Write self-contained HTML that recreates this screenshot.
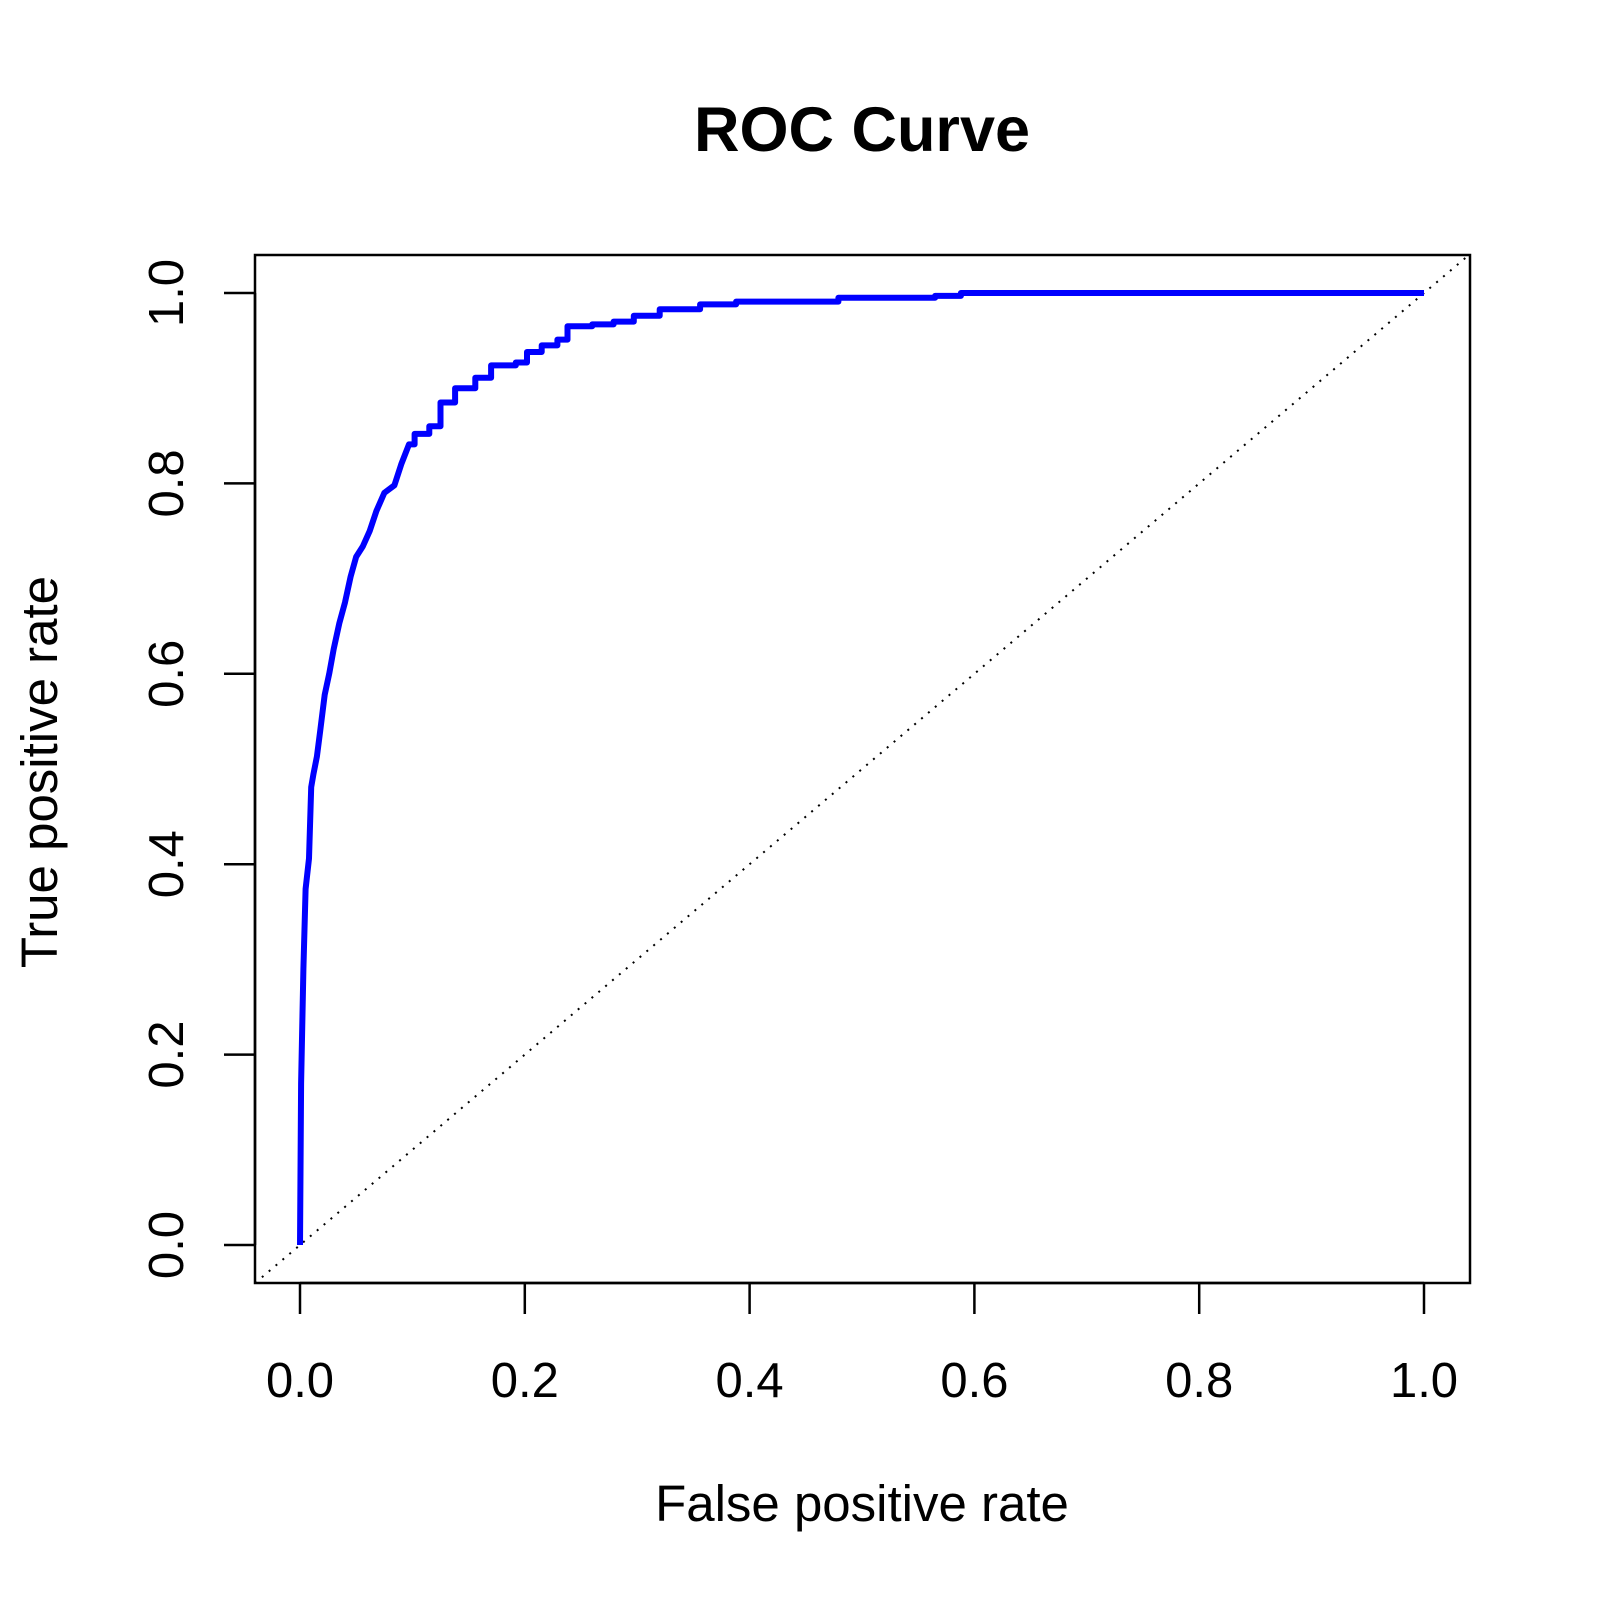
<!DOCTYPE html>
<html><head><meta charset="utf-8"><style>html,body{margin:0;padding:0;background:#fff}svg{display:block}</style></head>
<body>
<svg id="s" width="1603" height="1603" viewBox="0 0 1603 1603" xmlns="http://www.w3.org/2000/svg" font-family="Liberation Sans, Arial, sans-serif">
<defs><clipPath id="cl"><rect x="255" y="255" width="1215" height="1028"/></clipPath></defs>
<rect width="1603" height="1603" fill="#fff"/>
<text x="862" y="151" font-size="63" font-weight="bold" text-anchor="middle">ROC Curve</text>
<line clip-path="url(#cl)" x1="255.04" y1="1283.08" x2="1469" y2="254.9" stroke="#000" stroke-width="2" stroke-dasharray="2,7"/>
<polyline id="c" fill="none" stroke="#0000ff" stroke-width="6" stroke-linejoin="round" points=""/>
<rect x="255" y="255" width="1215" height="1028" fill="none" stroke="#000" stroke-width="2.5"/>
<g stroke="#000" stroke-width="2.5">
<line x1="300" y1="1283" x2="1424" y2="1283"/>
<line x1="300" y1="1283" x2="300" y2="1314"/><line x1="524.8" y1="1283" x2="524.8" y2="1314"/>
<line x1="749.6" y1="1283" x2="749.6" y2="1314"/><line x1="974.4" y1="1283" x2="974.4" y2="1314"/>
<line x1="1199.2" y1="1283" x2="1199.2" y2="1314"/><line x1="1424" y1="1283" x2="1424" y2="1314"/>
<line x1="255" y1="293" x2="255" y2="1245"/>
<line x1="224" y1="1245" x2="255" y2="1245"/><line x1="224" y1="1054.6" x2="255" y2="1054.6"/>
<line x1="224" y1="864.2" x2="255" y2="864.2"/><line x1="224" y1="673.8" x2="255" y2="673.8"/>
<line x1="224" y1="483.4" x2="255" y2="483.4"/><line x1="224" y1="293" x2="255" y2="293"/>
</g>
<g font-size="49" text-anchor="middle">
<text x="300" y="1397">0.0</text><text x="524.8" y="1397">0.2</text><text x="749.6" y="1397">0.4</text>
<text x="974.4" y="1397">0.6</text><text x="1199.2" y="1397">0.8</text><text x="1424" y="1397">1.0</text>
<text transform="translate(183,1245) rotate(-90)">0.0</text>
<text transform="translate(183,1054.6) rotate(-90)">0.2</text>
<text transform="translate(183,864.2) rotate(-90)">0.4</text>
<text transform="translate(183,673.8) rotate(-90)">0.6</text>
<text transform="translate(183,483.4) rotate(-90)">0.8</text>
<text transform="translate(183,293) rotate(-90)">1.0</text>
<text x="862" y="1521" font-size="51">False positive rate</text>
<text transform="translate(57,772) rotate(-90)" font-size="51">True positive rate</text>
</g>
</svg>
<script>
var d=[[0,0],[0.001,0.17],[0.003,0.29],[0.005,0.374],[0.008,0.406],[0.01,0.481],[0.012,0.495],[0.015,0.513],[0.018,0.54],[0.022,0.578],[0.026,0.6],[0.03,0.626],[0.035,0.653],[0.04,0.675],[0.045,0.702],[0.05,0.723],[0.056,0.734],[0.062,0.75],[0.068,0.771],[0.075,0.79],[0.084,0.798],[0.09,0.82],[0.097,0.841],[0.102,0.852],[0.115,0.86],[0.125,0.885],[0.138,0.9],[0.156,0.911],[0.17,0.924],[0.192,0.927],[0.202,0.938],[0.215,0.945],[0.229,0.951],[0.238,0.965],[0.26,0.967],[0.279,0.97],[0.297,0.976],[0.32,0.983],[0.356,0.988],[0.388,0.991],[0.479,0.995],[0.565,0.997],[0.588,1],[1,1]];
var p=[],py=null;
d.forEach(function(a){var x=300+a[0]*1124,y=1245-a[1]*952;if(py!==null&&a[0]>0.1){p.push(x.toFixed(1)+","+py.toFixed(1));}p.push(x.toFixed(1)+","+y.toFixed(1));py=y;});
document.getElementById("c").setAttribute("points",p.join(" "));
</script>
</body></html>
